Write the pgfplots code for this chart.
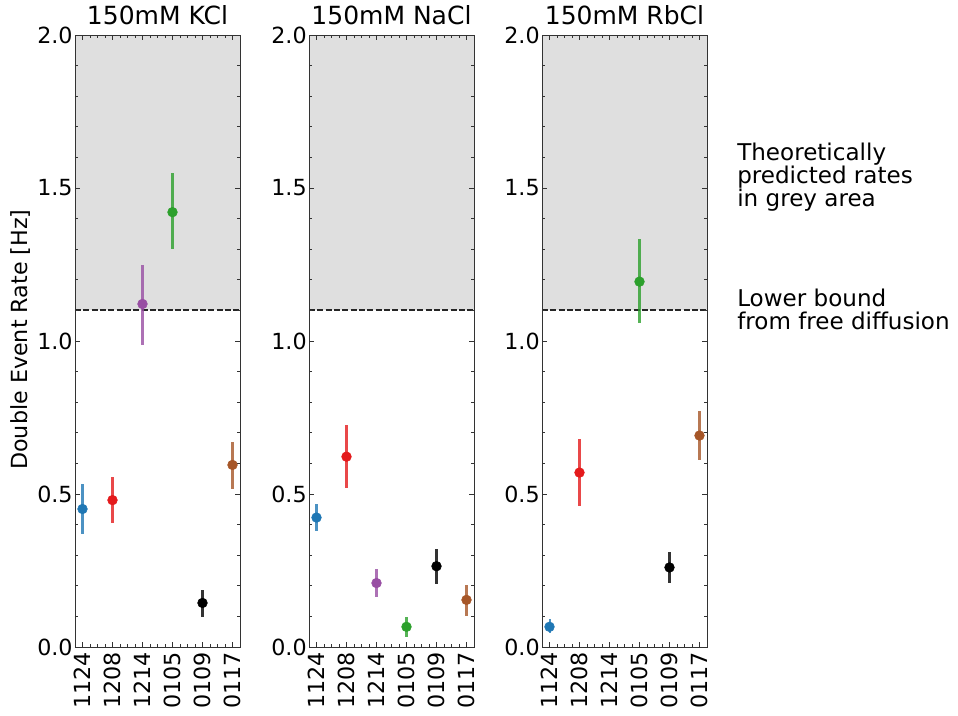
\documentclass[border=0pt]{standalone}
\usepackage{fontspec}
\setmainfont{DejaVu Sans}
\usepackage{pgfplots}
\pgfplotsset{compat=1.18}
\definecolor{cblue}{RGB}{31,119,180}
\definecolor{cred}{RGB}{228,26,28}
\definecolor{cpurple}{RGB}{152,78,163}
\definecolor{cgreen}{RGB}{44,160,44}
\definecolor{cbrown}{RGB}{166,86,40}
\definecolor{cgrey}{RGB}{223,223,223}
\pgfplotsset{
  panel/.style={
    anchor=south west, width=118.8pt, height=440.64pt, scale only axis,
    xmin=-0.25, xmax=5.25, ymin=0, ymax=2,
    xtick={0,1,2,3,4,5}, xticklabels={1124,1208,1214,0105,0109,0117},
    ytick={0,0.5,1,1.5,2},
    minor x tick num=3, minor y tick num=4,
    tick align=inside, major tick length=3.5pt, minor tick length=2pt,
    tick style={line width=0.6pt, color=black!80},
    minor tick style={line width=0.45pt, color=black!80},
    axis line style={line width=0.6pt, color=black!80},
    axis on top,
    /pgf/number format/assume math mode=true,
    xticklabel style={rotate=90, anchor=east, font=\fontsize{16}{19}\selectfont, inner sep=3.5pt},
    yticklabel style={/pgf/number format/.cd, fixed, fixed zerofill, precision=1, /tikz/.cd, font=\fontsize{16}{19}\selectfont, inner sep=1.5pt},
    title style={font=\fontsize{18}{21}\selectfont, inner sep=1pt},
  },
  pt/.style={only marks, mark=*, mark size=3.5pt, color=#1, mark options={draw=none, fill=#1},
    error bars/.cd, y dir=both, y explicit, error mark=none,
    error bar style={line width=1.45pt, draw=#1, draw opacity=0.8}},
}
\newcommand{\greyband}{%
  \addplot[fill=cgrey, draw=none] coordinates {(-0.25,1.1) (5.25,1.1) (5.25,2) (-0.25,2)} -- cycle;
  \addplot[draw=black!85, line width=1.35pt, dash pattern=on 4.2pt off 1.8pt] coordinates {(-0.25,1.1) (5.25,1.1)};
}
\begin{document}
\begin{tikzpicture}
\useasboundingbox (0,0) rectangle (689.76pt,514.8pt);
% Panel 1: KCl
\begin{axis}[panel, at={(54pt,48.96pt)}, title={150mM KCl},
  ylabel={Double Event Rate [Hz]}, ylabel style={font=\fontsize{16}{19}\selectfont, xshift=1pt}]
\greyband
\addplot[pt=cblue] coordinates {(0,0.451) += (0,0.082) -= (0,0.082)};
\addplot[pt=cred] coordinates {(1,0.480) += (0,0.076) -= (0,0.075)};
\addplot[pt=cpurple] coordinates {(2,1.121) += (0,0.127) -= (0,0.134)};
\addplot[pt=cgreen] coordinates {(3,1.421) += (0,0.128) -= (0,0.121)};
\addplot[pt=black] coordinates {(4,0.144) += (0,0.042) -= (0,0.046)};
\addplot[pt=cbrown] coordinates {(5,0.595) += (0,0.075) -= (0,0.079)};
\end{axis}
% Panel 2: NaCl
\begin{axis}[panel, at={(222.48pt,48.96pt)}, title={150mM NaCl}]
\greyband
\addplot[pt=cblue] coordinates {(0,0.423) += (0,0.043) -= (0,0.043)};
\addplot[pt=cred] coordinates {(1,0.622) += (0,0.103) -= (0,0.103)};
\addplot[pt=cpurple] coordinates {(2,0.209) += (0,0.045) -= (0,0.045)};
\addplot[pt=cgreen] coordinates {(3,0.066) += (0,0.033) -= (0,0.032)};
\addplot[pt=black] coordinates {(4,0.264) += (0,0.055) -= (0,0.058)};
\addplot[pt=cbrown] coordinates {(5,0.154) += (0,0.049) -= (0,0.052)};
\end{axis}
% Panel 3: RbCl
\begin{axis}[panel, at={(390.24pt,48.96pt)}, title={150mM RbCl}]
\greyband
\addplot[pt=cblue] coordinates {(0,0.066) += (0,0.024) -= (0,0.021)};
\addplot[pt=cred] coordinates {(1,0.570) += (0,0.109) -= (0,0.109)};
\addplot[pt=cgreen] coordinates {(3,1.194) += (0,0.138) -= (0,0.136)};
\addplot[pt=black] coordinates {(4,0.260) += (0,0.052) -= (0,0.050)};
\addplot[pt=cbrown] coordinates {(5,0.691) += (0,0.080) -= (0,0.080)};
\end{axis}
\begin{scope}[every node/.style={anchor=base west, inner sep=0pt, font=\fontsize{16.6}{19}\selectfont}]
\node at (530.64pt,398.88pt) {Theoretically};
\node at (530.64pt,382.32pt) {predicted rates};
\node at (530.64pt,365.76pt) {in grey area};
\node at (530.64pt,294.48pt) {Lower bound};
\node at (530.64pt,277.92pt) {from free diffusion};
\end{scope}
\end{tikzpicture}
\end{document}
